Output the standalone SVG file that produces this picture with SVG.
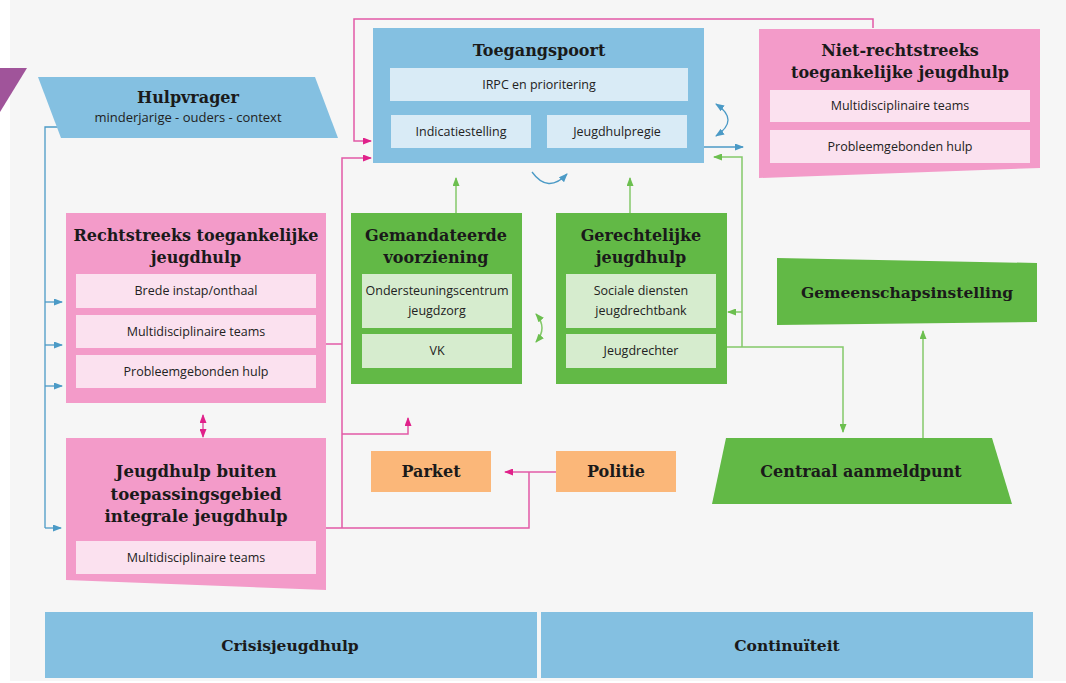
<svg xmlns="http://www.w3.org/2000/svg" width="1066" height="683" viewBox="0 0 1066 683">
<defs>
<style>
.bg{fill:#f6f6f6}
.blue{fill:#84c0e1}
.pink{fill:#f39bc9}
.green{fill:#62b946}
.orange{fill:#fbb779}
.iblue{fill:#d9ebf6}
.ipink{fill:#fbe1ef}
.igreen{fill:#d6ecce}
.t{font-family:"DejaVu Serif","Liberation Serif",serif;font-weight:bold;fill:#1a1a1a;text-anchor:middle;font-size:16px}
.s{font-family:"Open Sans","Noto Sans","Liberation Sans",sans-serif;fill:#222;text-anchor:middle;font-size:12.5px}
.lb{fill:none;stroke:#4b9ac6;stroke-width:1.3}
.lp{fill:none;stroke:#e25aa7;stroke-width:1.5}
.lg{fill:none;stroke:#84c96a;stroke-width:1.5}
</style>
<marker id="ab" markerWidth="9" markerHeight="7" refX="8" refY="3.5" orient="auto-start-reverse" markerUnits="userSpaceOnUse"><path d="M0,0 L9,3.5 L0,7 Z" fill="#4b9ac6"/></marker>
<marker id="ap" markerWidth="9" markerHeight="7" refX="8" refY="3.5" orient="auto-start-reverse" markerUnits="userSpaceOnUse"><path d="M0,0 L9,3.5 L0,7 Z" fill="#e0218a"/></marker>
<marker id="ag" markerWidth="9" markerHeight="7" refX="8" refY="3.5" orient="auto-start-reverse" markerUnits="userSpaceOnUse"><path d="M0,0 L9,3.5 L0,7 Z" fill="#6cbf4f"/></marker>
</defs>
<rect x="0" y="0" width="1066" height="683" fill="#ffffff"/>
<rect class="bg" x="10" y="0" width="1056" height="681"/>
<polygon points="0,68 27,68 0,112" fill="#a0549a"/>

<g id="connectors">
<path class="lb" d="M61,127 H45 V528"/>
<path class="lb" d="M45,302 H62" marker-end="url(#ab)"/>
<path class="lb" d="M45,345 H62" marker-end="url(#ab)"/>
<path class="lb" d="M45,386 H62" marker-end="url(#ab)"/>
<path class="lb" d="M45,528 H61" marker-end="url(#ab)"/>
<path class="lb" d="M704,147 H743" marker-end="url(#ab)"/>
<path class="lb" d="M716,104 Q740,120 716,136" marker-start="url(#ab)" marker-end="url(#ab)"/>
<path class="lb" d="M532,172 Q548,194 567,174" marker-end="url(#ab)"/>
<path class="lp" d="M873,28 V19 H354 V141 H371" marker-end="url(#ap)"/>
<path class="lp" d="M342,528 V158 H371" marker-end="url(#ap)"/>
<path class="lp" d="M326,344 H342"/>
<path class="lp" d="M326,528 H529 V472"/>
<path class="lp" d="M556,472 H505" marker-end="url(#ap)"/>
<path class="lp" d="M342,434 H408 V418" marker-end="url(#ap)"/>
<path class="lp" d="M203,415 V437" marker-start="url(#ap)" marker-end="url(#ap)"/>
<path class="lg" d="M456,213 V178" marker-end="url(#ag)"/>
<path class="lg" d="M630,213 V178" marker-end="url(#ag)"/>
<path class="lg" d="M727,347 H843 V432" marker-end="url(#ag)"/>
<path class="lg" d="M742,347 V157 H714" marker-end="url(#ag)"/>
<path class="lg" d="M742,312 H728" marker-end="url(#ag)"/>
<path class="lg" d="M923,438 V331" marker-end="url(#ag)"/>
<path class="lg" d="M536,314 Q548,328 536,342" marker-start="url(#ag)" marker-end="url(#ag)"/>
</g>

<g id="hulpvrager">
<polygon class="blue" points="38,77 315,77 338,138 61,138"/>
<text class="t" x="188" y="103">Hulpvrager</text>
<text class="s" x="188" y="122" style="font-size:13px">minderjarige - ouders - context</text>
</g>

<g id="toegangspoort">
<rect class="blue" x="373" y="28" width="331" height="135"/>
<text class="t" x="539" y="56">Toegangspoort</text>
<rect class="iblue" x="390" y="68" width="298" height="33"/>
<text class="s" x="539" y="89">IRPC en prioritering</text>
<rect class="iblue" x="391" y="115" width="140" height="33"/>
<text class="s" x="461" y="136">Indicatiestelling</text>
<rect class="iblue" x="547" y="115" width="140" height="33"/>
<text class="s" x="617" y="136">Jeugdhulpregie</text>
</g>

<g id="niet-rechtstreeks">
<polygon class="pink" points="759,29 1040,29 1040,168 759,178"/>
<text class="t" x="900" y="56">Niet-rechtstreeks</text>
<text class="t" x="900" y="78">toegankelijke jeugdhulp</text>
<rect class="ipink" x="770" y="90" width="260" height="32"/>
<text class="s" x="900" y="110">Multidisciplinaire teams</text>
<rect class="ipink" x="770" y="130" width="260" height="33"/>
<text class="s" x="900" y="151">Probleemgebonden hulp</text>
</g>

<g id="rechtstreeks">
<rect class="pink" x="66" y="213" width="260" height="190"/>
<text class="t" x="196" y="241">Rechtstreeks toegankelijke</text>
<text class="t" x="196" y="263">jeugdhulp</text>
<rect class="ipink" x="76" y="274" width="240" height="34"/>
<text class="s" x="196" y="295">Brede instap/onthaal</text>
<rect class="ipink" x="76" y="315" width="240" height="33"/>
<text class="s" x="196" y="336">Multidisciplinaire teams</text>
<rect class="ipink" x="76" y="355" width="240" height="33"/>
<text class="s" x="196" y="376">Probleemgebonden hulp</text>
</g>

<g id="gemandateerde">
<rect class="green" x="351" y="213" width="171" height="171"/>
<text class="t" x="436" y="241">Gemandateerde</text>
<text class="t" x="436" y="263">voorziening</text>
<rect class="igreen" x="362" y="274" width="150" height="54"/>
<text class="s" x="437" y="295">Ondersteuningscentrum</text>
<text class="s" x="437" y="315">jeugdzorg</text>
<rect class="igreen" x="362" y="334" width="150" height="34"/>
<text class="s" x="437" y="355">VK</text>
</g>

<g id="gerechtelijke">
<rect class="green" x="556" y="213" width="171" height="171"/>
<text class="t" x="641" y="241">Gerechtelijke</text>
<text class="t" x="641" y="263">jeugdhulp</text>
<rect class="igreen" x="566" y="274" width="150" height="54"/>
<text class="s" x="641" y="295">Sociale diensten</text>
<text class="s" x="641" y="315">jeugdrechtbank</text>
<rect class="igreen" x="566" y="334" width="150" height="34"/>
<text class="s" x="641" y="355">Jeugdrechter</text>
</g>

<g id="gemeenschapsinstelling">
<polygon class="green" points="777,258 1037,263 1037,322 777,325"/>
<text class="t" x="907" y="298" style="font-size:15.5px">Gemeenschapsinstelling</text>
</g>

<g id="jeugdhulp-buiten">
<polygon class="pink" points="66,438 326,438 326,590 66,580"/>
<text class="t" x="196" y="477" style="font-size:16.5px">Jeugdhulp buiten</text>
<text class="t" x="196" y="500" style="font-size:16.5px">toepassingsgebied</text>
<text class="t" x="196" y="522" style="font-size:16.5px">integrale jeugdhulp</text>
<rect class="ipink" x="76" y="541" width="240" height="33"/>
<text class="s" x="196" y="562">Multidisciplinaire teams</text>
</g>

<g id="parket">
<rect class="orange" x="371" y="451" width="120" height="41"/>
<text class="t" x="431" y="477">Parket</text>
</g>

<g id="politie">
<rect class="orange" x="556" y="451" width="120" height="41"/>
<text class="t" x="616" y="477">Politie</text>
</g>

<g id="centraal-aanmeldpunt">
<polygon class="green" points="726,438 992,438 1012,504 712,504"/>
<text class="t" x="861" y="477">Centraal aanmeldpunt</text>
</g>

<g id="crisisjeugdhulp">
<rect class="blue" x="45" y="612" width="492" height="66"/>
<text class="t" x="290" y="651" style="font-size:15.5px">Crisisjeugdhulp</text>
</g>

<g id="continuiteit">
<rect class="blue" x="541" y="612" width="492" height="66"/>
<text class="t" x="787" y="651" style="font-size:15.5px">Continuïteit</text>
</g>
</svg>
